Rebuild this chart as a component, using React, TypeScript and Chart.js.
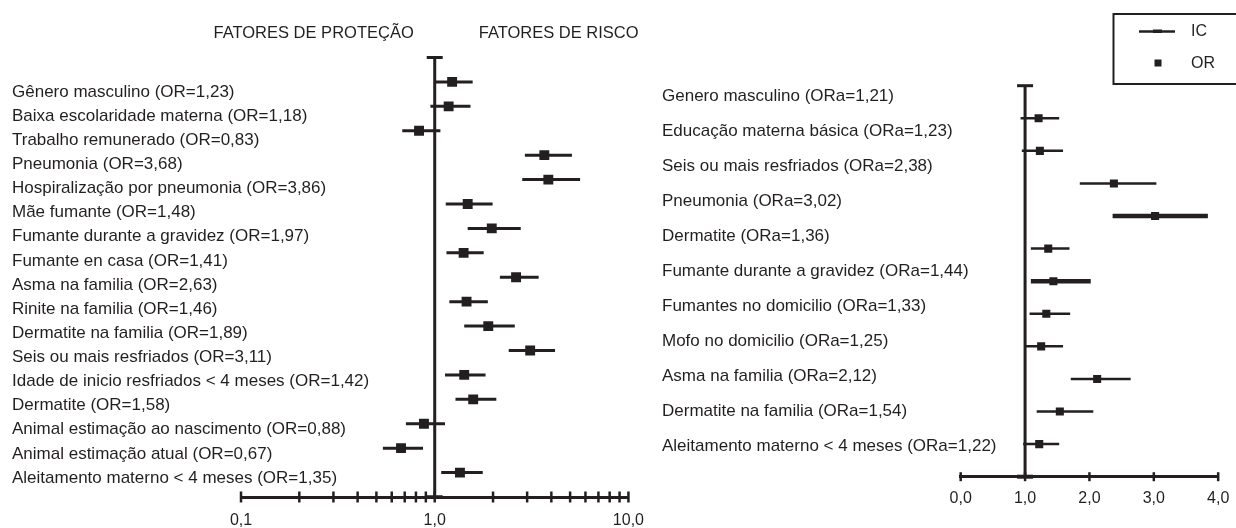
import React, { useEffect, useRef } from 'react';
import { Chart, registerables } from 'chart.js';

Chart.register(...registerables);

const INK = '#231f20';
const FONT = '"Liberation Sans", Arial, Helvetica, sans-serif';

// ---------- Left panel (OR, log scale) ----------
const LEFT_LABELS = [
  'Gênero masculino (OR=1,23)',
  'Baixa escolaridade materna (OR=1,18)',
  'Trabalho remunerado (OR=0,83)',
  'Pneumonia (OR=3,68)',
  'Hospiralização por pneumonia (OR=3,86)',
  'Mãe fumante (OR=1,48)',
  'Fumante durante a gravidez (OR=1,97)',
  'Fumante en casa (OR=1,41)',
  'Asma na familia (OR=2,63)',
  'Rinite na familia (OR=1,46)',
  'Dermatite na familia (OR=1,89)',
  'Seis ou mais resfriados (OR=3,11)',
  'Idade de inicio resfriados < 4 meses (OR=1,42)',
  'Dermatite (OR=1,58)',
  'Animal estimação ao nascimento (OR=0,88)',
  'Animal estimação atual (OR=0,67)',
  'Aleitamento materno < 4 meses (OR=1,35)',
];
const LEFT_OR = [1.23, 1.18, 0.83, 3.68, 3.86, 1.48, 1.97, 1.41, 2.63, 1.46, 1.89, 3.11, 1.42, 1.58, 0.88, 0.67, 1.35];
const LEFT_LOW = [1.0, 0.95, 0.68, 2.92, 2.83, 1.14, 1.48, 1.15, 2.17, 1.19, 1.42, 2.41, 1.13, 1.28, 0.71, 0.54, 1.08];
const LEFT_HIGH = [1.57, 1.53, 1.07, 5.11, 5.63, 1.99, 2.78, 1.79, 3.44, 1.88, 2.59, 4.18, 1.83, 2.08, 1.13, 0.87, 1.77];
const LEFT_TICKS = [0.1, 0.2, 0.3, 0.4, 0.5, 0.6, 0.7, 0.8, 0.9, 1, 2, 3, 4, 5, 6, 7, 8, 9, 10];
const LEFT_TICK_LABELS: Record<string, string> = { '0.1': '0,1', '1': '1,0', '10': '10,0' };
const TITLES = ['FATORES DE PROTEÇÃO', 'FATORES DE RISCO'];

// ---------- Right panel (ORa, linear scale) ----------
const RIGHT_LABELS = [
  'Genero masculino (ORa=1,21)',
  'Educação materna básica (ORa=1,23)',
  'Seis ou mais resfriados (ORa=2,38)',
  'Pneumonia (ORa=3,02)',
  'Dermatite (ORa=1,36)',
  'Fumante durante a gravidez (ORa=1,44)',
  'Fumantes no domicilio (ORa=1,33)',
  'Mofo no domicilio (ORa=1,25)',
  'Asma na familia (ORa=2,12)',
  'Dermatite na familia (ORa=1,54)',
  'Aleitamento materno < 4 meses (ORa=1,22)',
];
const RIGHT_OR = [1.21, 1.23, 2.38, 3.02, 1.36, 1.44, 1.33, 1.25, 2.12, 1.54, 1.22];
const RIGHT_LOW = [0.93, 0.95, 1.85, 2.36, 1.09, 1.09, 1.07, 1.0, 1.71, 1.18, 0.97];
const RIGHT_HIGH = [1.53, 1.59, 3.04, 3.84, 1.69, 2.02, 1.7, 1.59, 2.64, 2.06, 1.53];
const RIGHT_TICKS = [0, 1, 2, 3, 4];
const RIGHT_TICK_LABELS = ['0,0', '1,0', '2,0', '3,0', '4,0'];
const RIGHT_THICK_ROWS = [3, 5];
const LEGEND_ITEMS = ['IC', 'OR'];

function ciData(low: number[], high: number[]) {
  const out: any[] = [];
  low.forEach((lo, i) => {
    out.push({ x: lo, y: i }, { x: high[i], y: i }, { x: high[i], y: null });
  });
  return out;
}
function orData(vals: number[]) {
  return vals.map((v, i) => ({ x: v, y: i }));
}

function drawRef(chart: any, lineW: number, capHalf: number, bottomCapW: number) {
  const { ctx, chartArea, scales } = chart;
  const x = scales.x.getPixelForValue(1);
  const top = scales.y.getPixelForValue(scales.y.min);
  const bottom = chartArea.bottom;
  ctx.save();
  ctx.strokeStyle = INK;
  ctx.lineWidth = lineW;
  ctx.beginPath();
  ctx.moveTo(x, top);
  ctx.lineTo(x, bottom);
  ctx.stroke();
  ctx.beginPath();
  ctx.moveTo(x - capHalf, top);
  ctx.lineTo(x + capHalf, top);
  ctx.stroke();
  ctx.lineWidth = bottomCapW;
  ctx.beginPath();
  ctx.moveTo(x - capHalf, bottom);
  ctx.lineTo(x + capHalf, bottom);
  ctx.stroke();
  ctx.restore();
}

function drawTicks(chart: any, values: number[], half: number, w: number) {
  const { ctx, chartArea, scales } = chart;
  ctx.save();
  ctx.strokeStyle = INK;
  ctx.lineWidth = w;
  values.forEach((v) => {
    const px = scales.x.getPixelForValue(v);
    ctx.beginPath();
    ctx.moveTo(px, chartArea.bottom - half);
    ctx.lineTo(px, chartArea.bottom + half);
    ctx.stroke();
  });
  ctx.restore();
}

function drawLabels(chart: any, labels: string[], x: number, size: number) {
  const { ctx, scales } = chart;
  ctx.save();
  ctx.fillStyle = INK;
  ctx.font = `${size}px ${FONT}`;
  ctx.textAlign = 'left';
  ctx.textBaseline = 'middle';
  labels.forEach((t, i) => ctx.fillText(t, x, scales.yl.getPixelForValue(i)));
  ctx.restore();
}

const leftPlugin = {
  id: 'leftDecor',
  beforeDatasetsDraw(chart: any) {
    drawRef(chart, 3, 8, 3.5);
  },
  afterDraw(chart: any) {
    const { ctx, scales } = chart;
    drawLabels(chart, LEFT_LABELS, 12, 17);
    drawTicks(chart, LEFT_TICKS, 5.5, 2.5);
    const x1 = scales.x.getPixelForValue(1);
    ctx.save();
    ctx.fillStyle = INK;
    ctx.font = `16.5px ${FONT}`;
    ctx.textBaseline = 'middle';
    ctx.textAlign = 'right';
    ctx.fillText(TITLES[0], x1 - 21, 33);
    ctx.textAlign = 'left';
    ctx.fillText(TITLES[1], x1 + 44, 33);
    ctx.restore();
  },
};

const rightPlugin = {
  id: 'rightDecor',
  beforeDatasetsDraw(chart: any) {
    drawRef(chart, 3, 8, 4);
  },
  afterDraw(chart: any) {
    const { ctx } = chart;
    drawLabels(chart, RIGHT_LABELS, 12, 17);
    drawTicks(chart, RIGHT_TICKS, 4.5, 2.5);
    // legend box
    ctx.save();
    ctx.strokeStyle = INK;
    ctx.lineWidth = 2;
    ctx.strokeRect(463.5, 14, 140, 70);
    // IC sample
    ctx.lineWidth = 2.5;
    ctx.beginPath();
    ctx.moveTo(489, 31.5);
    ctx.lineTo(525, 31.5);
    ctx.stroke();
    ctx.fillStyle = INK;
    ctx.fillRect(503, 29.5, 9, 3.5);
    // OR sample
    ctx.fillRect(504.5, 59.5, 7, 7);
    ctx.font = `16px ${FONT}`;
    ctx.textAlign = 'left';
    ctx.textBaseline = 'middle';
    ctx.fillText(LEGEND_ITEMS[0], 541, 32);
    ctx.fillText(LEGEND_ITEMS[1], 541, 63.5);
    ctx.restore();
  },
};

function makeLeft(canvas: HTMLCanvasElement) {
  return new Chart(canvas, {
    type: 'scatter',
    data: {
      datasets: [
        {
          label: 'IC',
          data: ciData(LEFT_LOW, LEFT_HIGH),
          showLine: true,
          borderColor: INK,
          borderWidth: 3,
          pointRadius: 0,
          spanGaps: false,
        } as any,
        {
          label: 'OR',
          data: orData(LEFT_OR),
          pointStyle: 'rect',
          pointRadius: 7,
          backgroundColor: INK,
          borderColor: INK,
          borderWidth: 0,
        } as any,
      ],
    },
    options: {
      responsive: false,
      animation: false,
      events: [],
      layout: { padding: { left: 241, right: 10, top: 57.5, bottom: 0 } },
      plugins: { legend: { display: false }, tooltip: { enabled: false }, title: { display: false } },
      scales: {
        x: {
          type: 'logarithmic',
          min: 0.1,
          max: 10,
          afterBuildTicks: (s: any) => {
            s.ticks = LEFT_TICKS.map((v) => ({ value: v }));
          },
          afterFit: (s: any) => {
            s.height = 31;
          },
          grid: { display: false, drawTicks: true, tickLength: 8 },
          border: { display: true, color: INK, width: 3 },
          ticks: {
            autoSkip: false,
            maxRotation: 0,
            minRotation: 0,
            padding: 6,
            color: INK,
            font: { family: FONT, size: 16 },
            callback: (v: any) => LEFT_TICK_LABELS[String(v)] ?? '',
          },
        },
        y: { type: 'linear', display: false, reverse: true, min: -1, max: 17 },
        yl: { type: 'linear', display: false, reverse: true, min: -1.43, max: 16.79 },
      },
    } as any,
    plugins: [leftPlugin],
  });
}

function makeRight(canvas: HTMLCanvasElement) {
  return new Chart(canvas, {
    type: 'scatter',
    data: {
      datasets: [
        {
          label: 'IC',
          data: ciData(RIGHT_LOW, RIGHT_HIGH),
          showLine: true,
          borderColor: INK,
          borderWidth: 2.5,
          pointRadius: 0,
          spanGaps: false,
          segment: {
            borderWidth: (c: any) => (RIGHT_THICK_ROWS.includes(Math.floor(c.p0DataIndex / 3)) ? 4.5 : 2.5),
          },
        } as any,
        {
          label: 'OR',
          data: orData(RIGHT_OR),
          pointStyle: 'rect',
          pointRadius: 5.7,
          backgroundColor: INK,
          borderColor: INK,
          borderWidth: 0,
        } as any,
      ],
    },
    options: {
      responsive: false,
      animation: false,
      events: [],
      layout: { padding: { left: 310.7, right: 12, top: 85.7, bottom: 0 } },
      plugins: { legend: { display: false }, tooltip: { enabled: false }, title: { display: false } },
      scales: {
        x: {
          type: 'linear',
          min: 0,
          max: 4,
          afterBuildTicks: (s: any) => {
            s.ticks = RIGHT_TICKS.map((v) => ({ value: v }));
          },
          afterFit: (s: any) => {
            s.height = 51.3;
          },
          grid: { display: false, drawTicks: true, tickLength: 6 },
          border: { display: true, color: INK, width: 3 },
          ticks: {
            autoSkip: false,
            maxRotation: 0,
            minRotation: 0,
            padding: 6.7,
            color: INK,
            font: { family: FONT, size: 16 },
            callback: (_v: any, i: number) => RIGHT_TICK_LABELS[i] ?? '',
          },
        },
        y: { type: 'linear', display: false, reverse: true, min: -1, max: 11 },
        yl: { type: 'linear', display: false, reverse: true, min: -0.294, max: 10.877 },
      },
    } as any,
    plugins: [rightPlugin],
  });
}

export default function App() {
  const leftRef = useRef<HTMLCanvasElement | null>(null);
  const rightRef = useRef<HTMLCanvasElement | null>(null);

  useEffect(() => {
    const a = makeLeft(leftRef.current!);
    const b = makeRight(rightRef.current!);
    return () => {
      a.destroy();
      b.destroy();
    };
  }, []);

  return (
    <div style={{ position: 'absolute', left: 0, top: 0, width: 1236, height: 528, background: '#fff', overflow: 'hidden' }}>
      <canvas ref={leftRef} width={650} height={528} style={{ position: 'absolute', left: 0, top: 0, width: 650, height: 528 }} />
      <canvas ref={rightRef} width={586} height={528} style={{ position: 'absolute', left: 650, top: 0, width: 586, height: 528 }} />
    </div>
  );
}
